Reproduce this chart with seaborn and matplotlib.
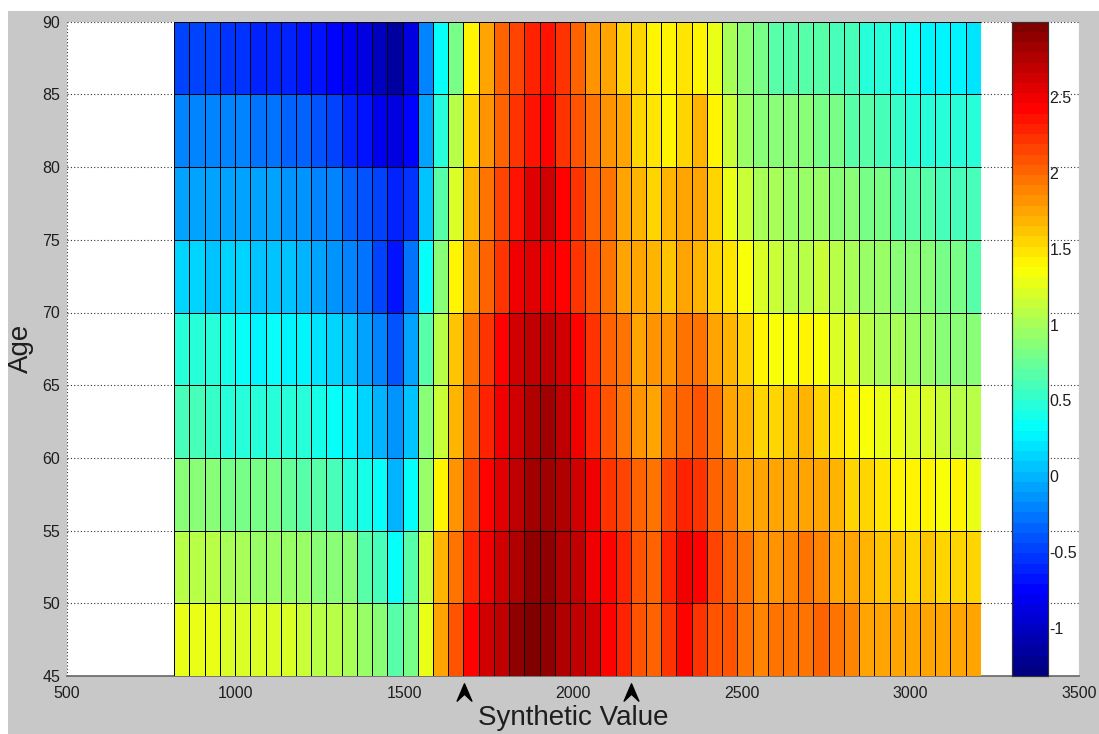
import numpy as np
import pandas as pd
import matplotlib
matplotlib.use("Agg")
import matplotlib.pyplot as plt
import matplotlib.path as mpath
import matplotlib.patches as mpatches
import matplotlib.transforms as mtransforms
from matplotlib.colors import LinearSegmentedColormap
import seaborn as sns

# age bands (lower edge) and span of the synthetic value bins
age_edges = [45, 50, 55, 60, 65, 70, 75, 80, 85, 90]
synthetic_min = 818
synthetic_max = 3209

# arrows under the x axis
arrow_positions = [1677, 2172]

# colour scale limits
cmin, cmax = -1.32, 3.0
cbar_ticks = [-1, -0.5, 0, 0.5, 1, 1.5, 2, 2.5]
cbar_labels = ['-1', '-0.5', '0', '0.5', '1', '1.5', '2', '2.5']

# one list per age band, 53 synthetic value bins each
age_85_90 = [-0.46, -0.46, -0.5, -0.52, -0.55, -0.58, -0.6, -0.62, -0.66, -0.7, -0.75, -0.82, -0.9, -1.0, -1.15, -0.9,
             -0.24, 0.3, 0.78, 1.38, 1.78, 2.05, 2.18, 2.32, 2.36, 2.25, 2.05,
             1.85, 1.72, 1.58, 1.52, 1.4, 1.38, 1.48, 1.38, 1.25, 1.04, 0.9, 0.78, 0.7, 0.7, 0.7, 0.65, 0.58, 0.58,
             0.5, 0.45, 0.38, 0.3, 0.28, 0.25, 0.25, 0.2]
age_80_85 = [-0.22, -0.2, -0.2, -0.22, -0.24, -0.27, -0.28, -0.32, -0.35, -0.42, -0.5, -0.6, -0.7, -0.8, -0.87, -0.72,
             -0.08, 0.5, 1.1, 1.55, 1.85, 2.05, 2.25, 2.36, 2.4, 2.25, 2.1,
             1.98, 1.85, 1.72, 1.58, 1.48, 1.38, 1.58, 1.66, 1.38, 1.14, 0.97, 0.9, 0.87, 0.84, 0.84, 0.8, 0.78, 0.7,
             0.65, 0.58, 0.55, 0.5, 0.5, 0.48, 0.48, 0.45]
age_75_80 = [-0.05, -0.05, -0.08, -0.05, -0.08, -0.08, -0.08, -0.12, -0.15, -0.2, -0.24, -0.35, -0.42, -0.5, -0.62, -0.55,
             0.08, 0.7, 1.2, 1.7, 1.98, 2.18, 2.36, 2.55, 2.6, 2.42, 2.22,
             2.05, 1.92, 1.78, 1.66, 1.58, 1.66, 1.78, 1.72, 1.52, 1.3, 1.14, 1.04, 1.0, 0.97, 0.97, 0.93, 0.9, 0.84,
             0.8, 0.78, 0.7, 0.68, 0.65, 0.62, 0.58, 0.58]
age_70_75 = [0.1, 0.1, 0.08, 0.1, 0.1, 0.08, 0.06, 0.06, 0.0, -0.05, -0.12, -0.2, -0.3, -0.45, -0.65, -0.3,
             0.3, 0.84, 1.38, 1.78, 2.05, 2.25, 2.46, 2.55, 2.46, 2.4, 2.25,
             2.1, 1.92, 1.78, 1.72, 1.66, 1.62, 1.72, 1.66, 1.58, 1.48, 1.33, 1.22, 1.14, 1.1, 1.1, 1.14, 1.1, 1.04,
             0.97, 0.93, 0.9, 0.87, 0.84, 0.8, 0.78, 0.7]
age_65_70 = [0.5, 0.5, 0.45, 0.38, 0.32, 0.28, 0.3, 0.28, 0.25, 0.2, 0.12, 0.04, -0.08, -0.24, -0.38, -0.08,
             0.7, 1.1, 1.6, 1.95, 2.2, 2.4, 2.6, 2.72, 2.68, 2.6, 2.4,
             2.25, 2.05, 1.92, 1.78, 1.85, 1.85, 1.92, 1.98, 1.78, 1.66, 1.52, 1.38, 1.33, 1.33, 1.38, 1.33, 1.22, 1.18,
             1.1, 1.04, 1.0, 0.97, 0.93, 0.9, 0.87, 0.84]
age_60_65 = [0.58, 0.58, 0.55, 0.5, 0.5, 0.5, 0.5, 0.5, 0.45, 0.38, 0.3, 0.25, 0.16, 0.0, -0.15, 0.08,
             0.84, 1.15, 1.66, 2.0, 2.28, 2.46, 2.62, 2.76, 2.8, 2.7, 2.46,
             2.32, 2.1, 1.98, 1.85, 1.78, 1.92, 2.05, 2.1, 1.92, 1.78, 1.66, 1.55, 1.58, 1.62, 1.66, 1.58, 1.48, 1.38,
             1.33, 1.3, 1.25, 1.22, 1.18, 1.14, 1.1, 1.1]
age_55_60 = [0.84, 0.84, 0.84, 0.8, 0.8, 0.78, 0.78, 0.75, 0.7, 0.65, 0.58, 0.5, 0.38, 0.3, 0.02, 0.3,
             0.95, 1.38, 1.85, 2.18, 2.4, 2.56, 2.68, 2.8, 2.85, 2.74, 2.6,
             2.46, 2.25, 2.18, 2.05, 1.98, 2.18, 2.32, 2.25, 2.05, 1.92, 1.78, 1.72, 1.72, 1.74, 1.78, 1.74, 1.66, 1.58,
             1.52, 1.48, 1.44, 1.38, 1.38, 1.36, 1.38, 1.3]
age_50_55 = [1.05, 1.05, 1.05, 1.0, 1.0, 0.97, 0.97, 0.97, 0.93, 0.9, 0.87, 0.84, 0.7, 0.58, 0.36, 0.65,
             1.15, 1.66, 1.98, 2.32, 2.52, 2.64, 2.76, 2.88, 2.9, 2.78, 2.7,
             2.52, 2.4, 2.32, 2.1, 2.05, 2.32, 2.46, 2.4, 2.18, 2.05, 1.92, 1.85, 1.85, 1.88, 1.92, 1.88, 1.78, 1.72,
             1.66, 1.62, 1.62, 1.58, 1.62, 1.58, 1.55, 1.55]
age_45_50 = [1.3, 1.3, 1.25, 1.22, 1.22, 1.22, 1.18, 1.18, 1.14, 1.1, 1.07, 1.0, 0.93, 0.84, 0.65, 0.78,
             1.3, 1.78, 2.1, 2.4, 2.6, 2.7, 2.88, 2.98, 2.9, 2.74, 2.68,
             2.6, 2.4, 2.32, 2.1, 2.02, 2.25, 2.4, 2.25, 2.1, 2.06, 1.95, 1.88, 1.95, 1.92, 1.92, 2.05, 1.98, 1.88,
             1.78, 1.78, 1.75, 1.72, 1.72, 1.72, 1.75, 1.72]

#%%
# heatmap rows go top to bottom, so oldest band first
rows = [age_85_90, age_80_85, age_75_80, age_70_75, age_65_70,
        age_60_65, age_55_60, age_50_55, age_45_50]
labels = [f"{a}-{a + 5}" for a in age_edges[:-1]][::-1]
df = pd.DataFrame(rows, index=labels)

# matlab style jet, 64 steps
jet64 = LinearSegmentedColormap.from_list(
    'jet64', [(0, (0, 0, 0.5)), (0.125, (0, 0, 1)), (0.375, (0, 1, 1)),
              (0.625, (1, 1, 0)), (0.875, (1, 0, 0)), (1, (0.5, 0, 0))], N=64)

sns.set_style("white")
plt.rcParams['font.family'] = ['Liberation Sans', 'DejaVu Sans']
gray = '#c8c8c8'
txt = '#1e1e1e'

fig = plt.figure(figsize=(10.99, 7.34), dpi=100, facecolor=gray)
ax = fig.add_axes([67 / 1099, 1 - 676 / 734, 1012 / 1099, 654.3 / 734])
ax.set_facecolor('white')

ax.set_xlim(500, 3500)
ax.set_ylim(age_edges[0], age_edges[-1])
ax.set_xticks([500, 1000, 1500, 2000, 2500, 3000, 3500])
ax.set_yticks(age_edges)
ax.grid(True, color='#333333', linestyle=(0, (1, 2)), linewidth=0.8)
ax.tick_params(direction='in', length=8, width=0.9, colors='#333333',
               labelcolor=txt, labelsize=11.5)
ax.tick_params(axis='x', pad=7)
ax.tick_params(axis='y', pad=5)
for s in ['top', 'right', 'left']:
    ax.spines[s].set_visible(False)
ax.spines['bottom'].set_color('#666666')
ax.spines['bottom'].set_linewidth(1.2)

ax.set_xlabel('Synthetic Value', fontsize=20, color=txt, va='top')
ax.xaxis.set_label_coords(0.5, -0.044)
ax.set_ylabel('Age', fontsize=20, color=txt, va='center')
ax.yaxis.set_label_coords(-0.046, 0.5)

# heatmap placed over the binned range of the main axes
hm_ax = ax.inset_axes([synthetic_min, age_edges[0], synthetic_max - synthetic_min,
                       age_edges[-1] - age_edges[0]], transform=ax.transData)
cbar_ax = ax.inset_axes([0.934, 0.0, 0.0356, 1.0])

sns.heatmap(df, ax=hm_ax, cmap=jet64, vmin=cmin, vmax=cmax,
            linewidths=0.7, linecolor='black',
            xticklabels=False, yticklabels=False,
            cbar_ax=cbar_ax, cbar_kws={'ticks': cbar_ticks})
hm_ax.set_xlabel('')
hm_ax.set_ylabel('')
hm_ax.set_axis_off()

cbar_ax.set_yticks(cbar_ticks)
cbar_ax.set_yticklabels(cbar_labels)
cbar_ax.tick_params(axis='y', which='both', direction='in', length=6, width=0.9,
                    left=True, right=True, labelright=True, labelleft=False,
                    labelsize=11.5, labelcolor=txt, colors='#222222', pad=1)
for s in cbar_ax.spines.values():
    s.set_visible(True)
    s.set_color('#333333')
    s.set_linewidth(0.8)

# arrow heads under the x axis
verts = [(0, 1), (0.85, -1), (0, -0.2), (-0.85, -1), (0, 1)]
arrow = mpath.Path(verts, [mpath.Path.MOVETO] + [mpath.Path.LINETO] * 3 + [mpath.Path.CLOSEPOLY])
trans = mtransforms.blended_transform_factory(ax.transData, ax.transAxes)
ax.plot(arrow_positions, [-0.0245] * len(arrow_positions), linestyle='none',
        marker=arrow, markersize=12.5, color='black', transform=trans, clip_on=False)

# white strips at top and left like the screenshot
fig.patches.append(mpatches.Rectangle((0, 1 - 11 / 734), 1, 11 / 734, transform=fig.transFigure,
                                      facecolor='white', edgecolor='none'))
fig.patches.append(mpatches.Rectangle((0, 0), 8 / 1099, 1, transform=fig.transFigure,
                                      facecolor='white', edgecolor='none'))

fig.savefig('out.png', dpi=100, facecolor=gray)
